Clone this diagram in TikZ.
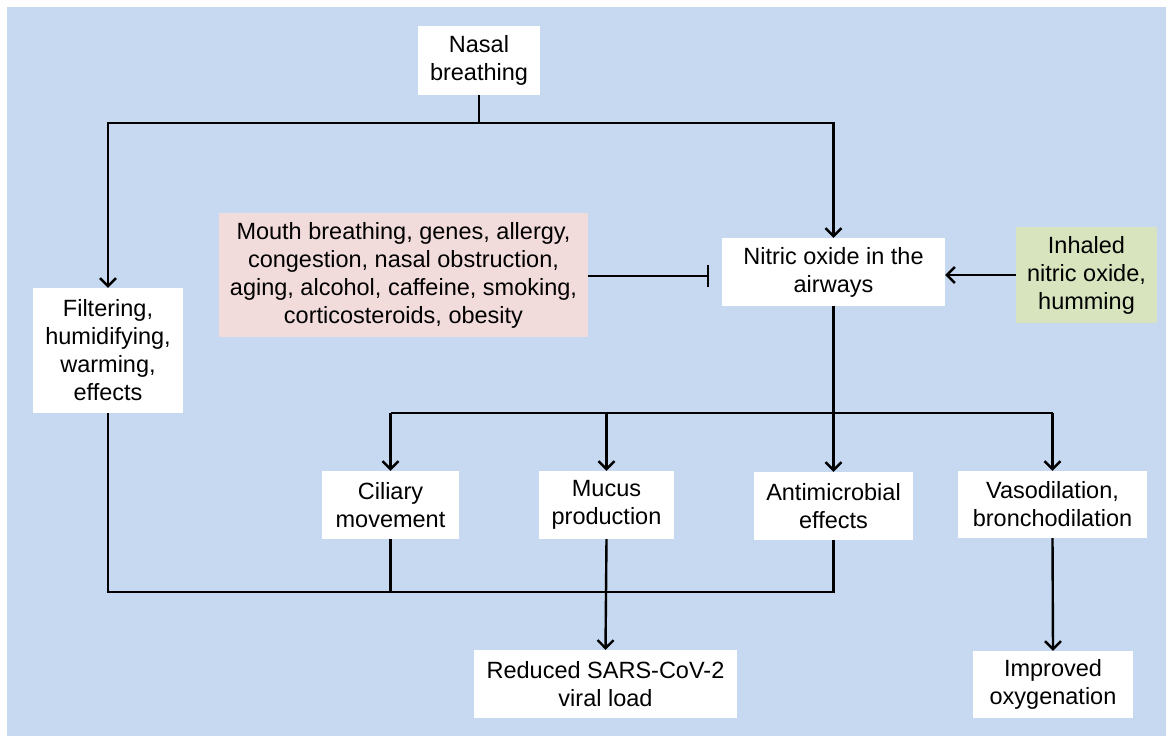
\documentclass[tikz,border=0pt]{standalone}
\usepackage{fontspec}
\setmainfont{Liberation Sans}
\usetikzlibrary{arrows.meta}
\definecolor{bgblue}{HTML}{C6D9F0}
\definecolor{boxpink}{HTML}{F2DCDB}
\definecolor{boxgreen}{HTML}{D7E4BD}
\begin{document}
\begin{tikzpicture}[x=1pt,y=-1pt,
        box/.style={fill=white, align=center, inner sep=0pt, font=\fontsize{23.5}{28}\selectfont},
        wire/.style={line width=2.4pt},
        flow/.style={wire, -{Straight Barb[length=8pt,width=16pt]}}]
        \useasboundingbox (0,0) rectangle (1173,740);

        % Background panel
        \fill[bgblue] (7,7) rectangle (1166,736);

        % Boxes
        \node[box, minimum width=122, minimum height=69] (nasal) at (479,60.5) {Nasal\\breathing};
        \node[box, minimum width=150, minimum height=125] (filter) at (108,350.5) {Filtering,\\humidifying,\\warming,\\effects};
        \node[box, fill=boxpink, minimum width=369, minimum height=124] (mouth) at (403.5,275)
            {Mouth breathing, genes, allergy,\\congestion, nasal obstruction,\\aging, alcohol, caffeine, smoking,\\corticosteroids, obesity};
        \node[box, minimum width=223, minimum height=68] (nitric) at (833.5,272) {Nitric oxide in the\\airways};
        \node[box, fill=boxgreen, minimum width=141, minimum height=96] (inhaled) at (1086.5,275) {Inhaled\\nitric oxide,\\humming};
        \node[box, minimum width=137, minimum height=68] (ciliary) at (390.5,505) {Ciliary\\movement};
        \node[box, minimum width=135, minimum height=68] (mucus) at (606.5,505) {Mucus\\production};
        \node[box, minimum width=159, minimum height=68] (antimicro) at (833.5,506) {Antimicrobial\\effects};
        \node[box, minimum width=189, minimum height=67] (vaso) at (1052.5,504.5) {Vasodilation,\\bronchodilation};
        \node[box, minimum width=263, minimum height=68] (viral) at (605.5,684) {Reduced SARS-CoV-2\\viral load};
        \node[box, minimum width=160, minimum height=67] (oxygen) at (1053,684.5) {Improved\\oxygenation};

        % Split below nasal breathing
        \coordinate (split) at (479,123);
        \draw[wire] (nasal.south) -- (split);
        \draw[flow] (split) -| (filter.north);
        \draw[flow] (split) -| (nitric.north);

        % Inhibition and supply of nitric oxide
        \coordinate (block) at (709,276);
        \draw[wire, -{Bar[width=22pt]}] (mouth.east |- block) -- (block);
        \draw[flow] (inhaled.west) -- (nitric.east |- inhaled.west);

        % Effects of nitric oxide
        \coordinate (branch) at (833.5,413);
        \draw[flow] (nitric.south) -- (antimicro.north);
        \draw[wire] (ciliary.north |- branch) -- (vaso.north |- branch);
        \foreach \n in {ciliary, mucus, vaso}
            {
                \draw[flow] (\n.north |- branch) -- (\n.north);
            }

        % Outcomes
        \coordinate (merge) at (606,592);
        \draw[wire] (filter.south) |- (antimicro.south |- merge) -- (antimicro.south);
        \draw[wire] (ciliary.south) -- (ciliary.south |- merge);
        \draw[flow] (mucus.south) -- (viral.north);
        \draw[flow] (vaso.south) -- (oxygen.north);

    \end{tikzpicture}
\end{document}
